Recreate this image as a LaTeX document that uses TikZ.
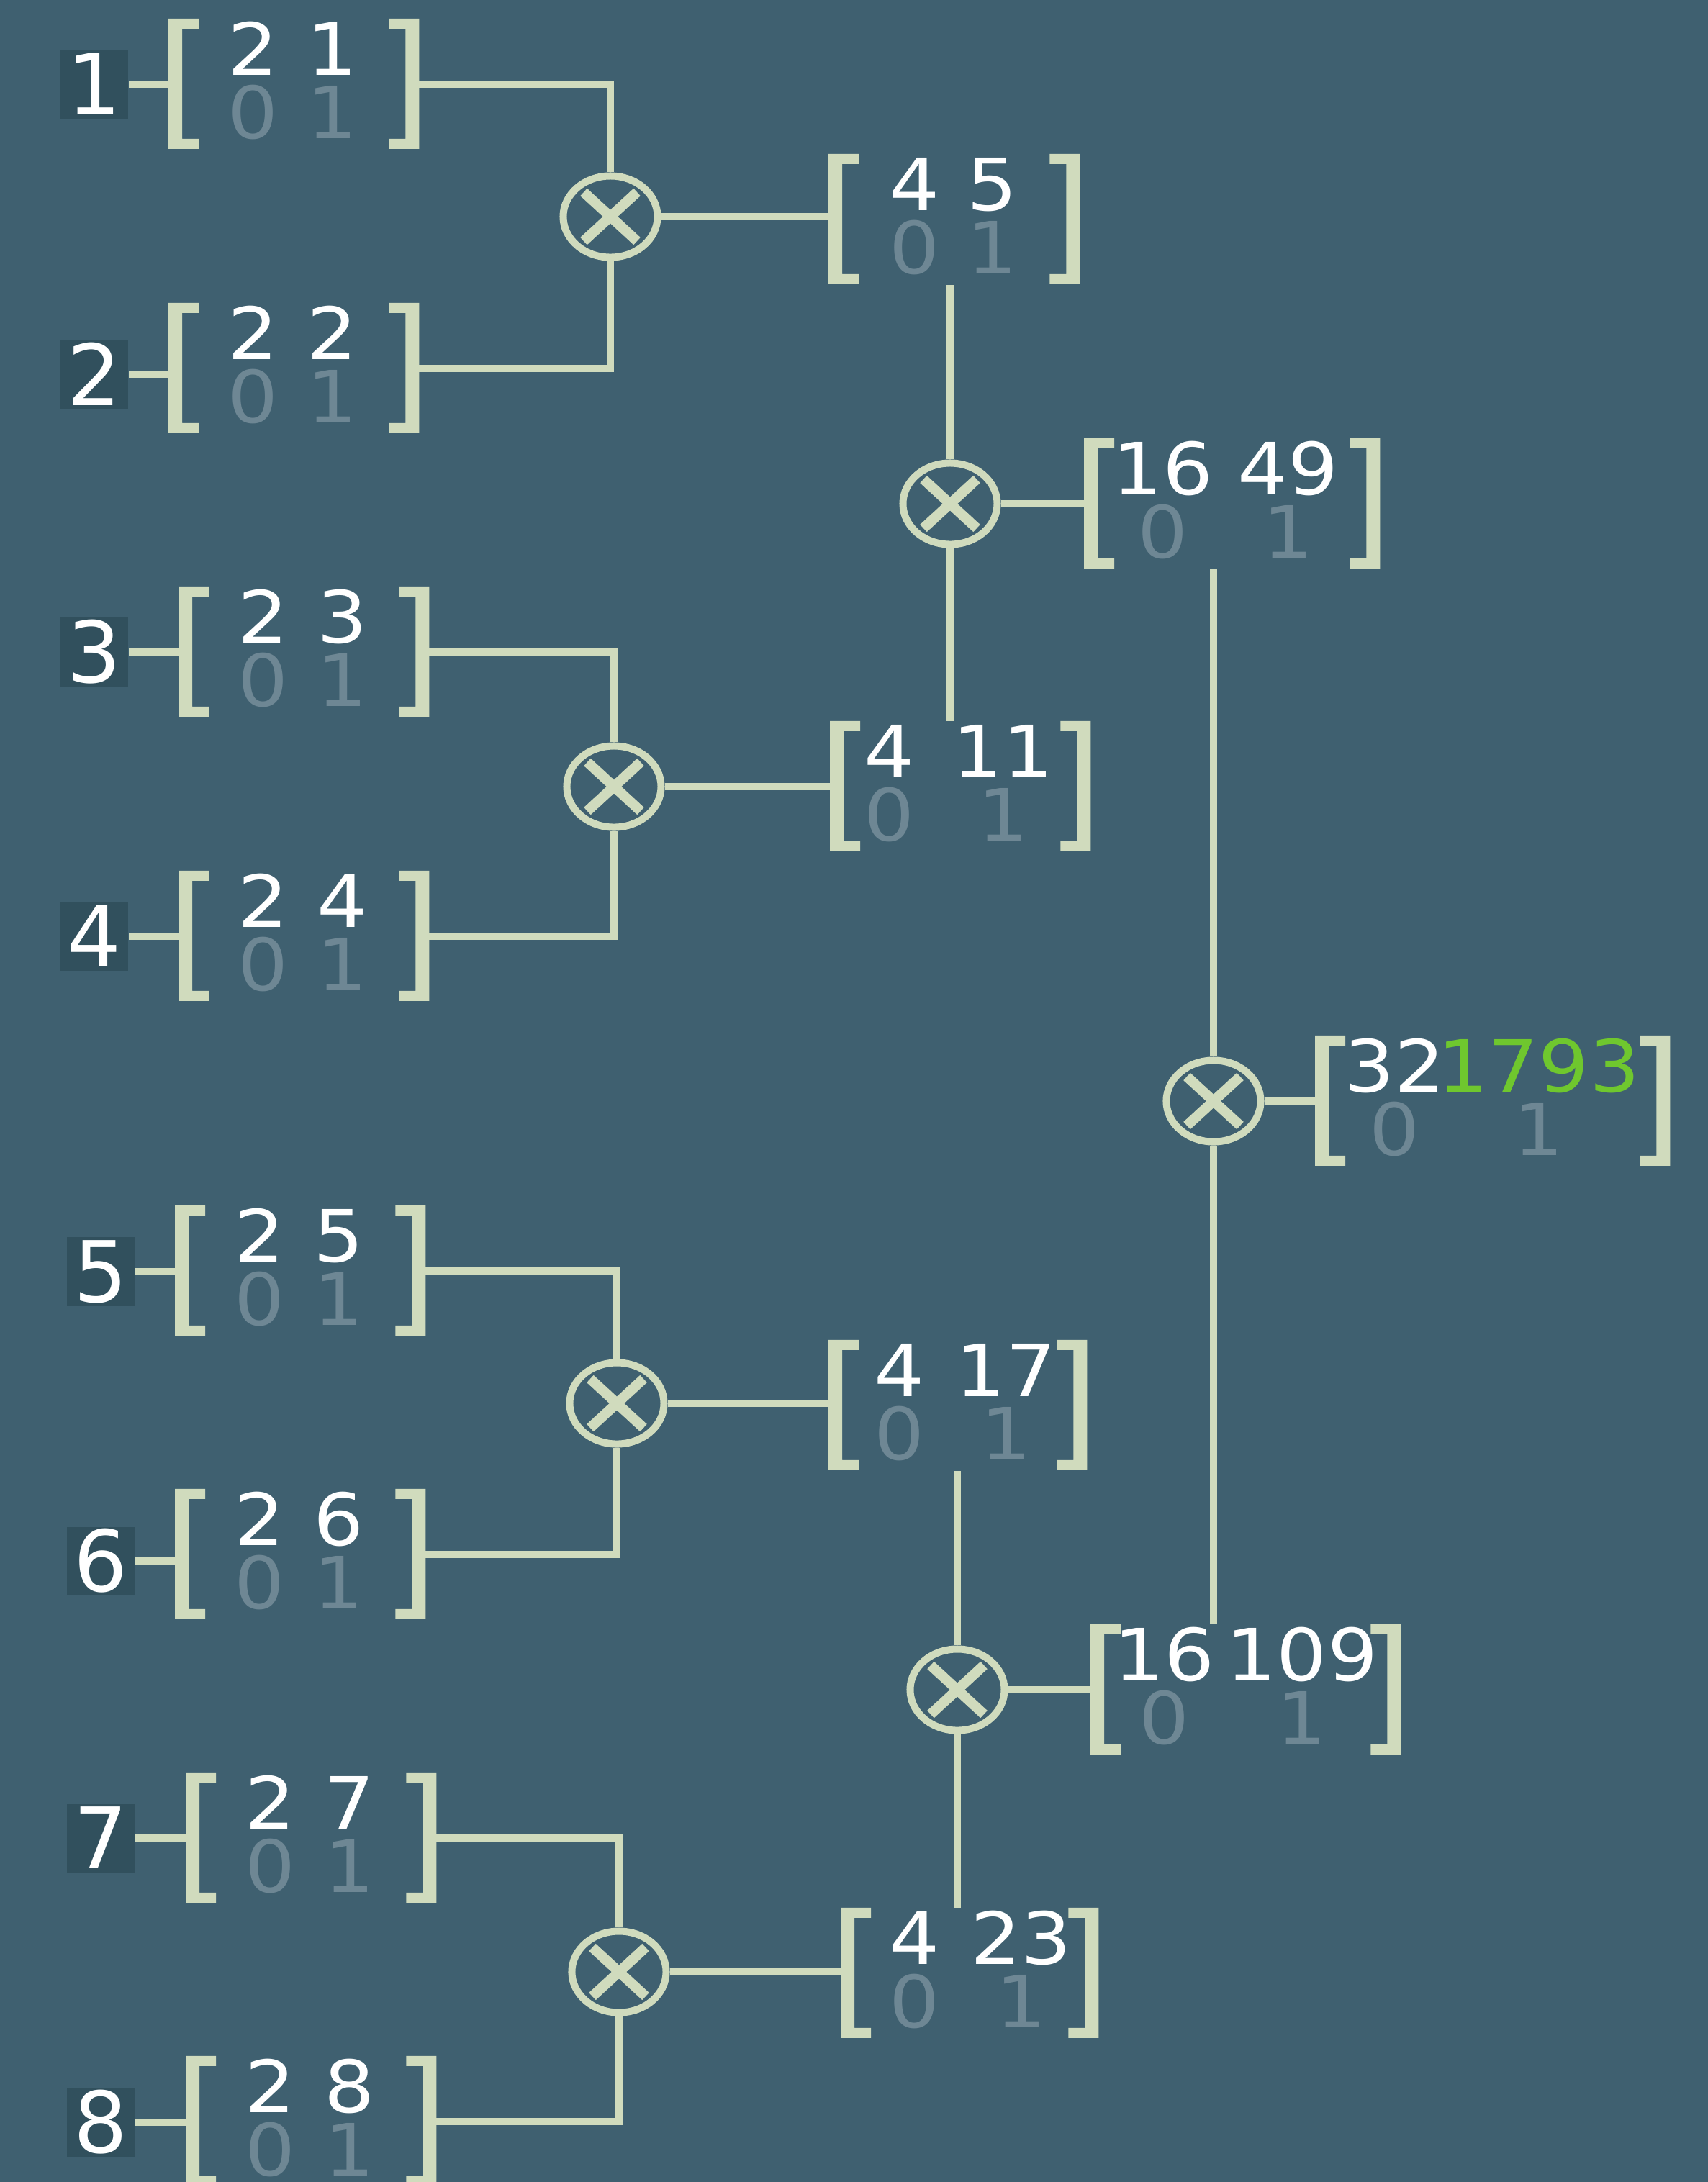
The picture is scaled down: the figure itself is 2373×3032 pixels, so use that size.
\documentclass[tikz,border=0pt]{standalone}
\usepackage{fontspec}
\usetikzlibrary{shapes.geometric}
\newfontfamily\kuanfont{DejaVu Sans}[FakeStretch=1.1]
\newfontfamily\biaofont{DejaVu Sans}
\definecolor{beijing}{HTML}{3F6070}
\definecolor{kuang}{HTML}{31505D}
\definecolor{xian}{HTML}{D0DBBD}
\definecolor{hui}{HTML}{6E8794}
\definecolor{lv}{HTML}{6FC72E}
\begin{document}
\begin{tikzpicture}[x=0.01cm, y=-0.01cm,
    lian/.style={draw=xian, line width=0.1cm},
    kuo/.style={fill=xian},
    jz/.style={anchor=west, minimum height=1.81cm, inner sep=0},
    shu/.style={anchor=base, inner sep=0, text=white, font=\kuanfont\fontsize{28.5}{30}\selectfont},
    ling/.style={text=hui},
    biao/.style={fill=kuang, text=white, minimum width=0.94cm, minimum height=0.95cm, inner sep=0, font=\biaofont\fontsize{33.5}{34}\selectfont},
    cheng/.style={ellipse, draw=xian, line width=0.1cm, minimum width=1.31cm, minimum height=1.13cm, inner sep=0,
        path picture={\draw[xian, line width=0.14cm]
            ([shift={(-0.37cm,-0.34cm)}]path picture bounding box.center) -- ([shift={(0.37cm,0.34cm)}]path picture bounding box.center)
            ([shift={(-0.37cm,0.34cm)}]path picture bounding box.center) -- ([shift={(0.37cm,-0.34cm)}]path picture bounding box.center);}}]

    % --- 背景 ---
    \useasboundingbox (0,0) rectangle (2373,3032);
    \fill[beijing] (0,0) rectangle (2373,3032);

    % --- 矩阵: 名称, 左边 x, 中心 y, 宽度, 两列的位置, 上行两数 ---
    \def\juzhen#1#2#3#4#5#6#7#8{%
        \node[jz, minimum width=#4*0.01cm] (#1) at (#2,#3) {};
        % 左右方括号
        \fill[kuo] (#1.north west) -- ++(42,0) -- ++(0,14) -- ++(-23,0) -- ++(0,153) -- ++(23,0) -- ++(0,14) -- ++(-42,0) -- cycle;
        \fill[kuo] (#1.north east) -- ++(-42,0) -- ++(0,14) -- ++(23,0) -- ++(0,153) -- ++(-23,0) -- ++(0,14) -- ++(42,0) -- cycle;
        \node[shu] at (#2+#5,#3-13) {#7};
        \node[shu] at (#2+#6,#3-13) {#8};
        \node[shu, ling] at (#2+#5,#3+75) {0};
        \node[shu, ling] at (#2+#6,#3+75) {1};
    }

    % --- 左边的编号 ---
    \node[biao] (b1) at (131,117) {1};
    \node[biao] (b2) at (131,520) {2};
    \node[biao] (b3) at (131,906) {3};
    \node[biao] (b4) at (131,1301) {4};
    \node[biao] (b5) at (140,1767) {5};
    \node[biao] (b6) at (140,2169) {6};
    \node[biao] (b7) at (140,2554) {7};
    \node[biao] (b8) at (140,2949) {8};

    % --- 输入矩阵 ---
    \juzhen{m1}{234}{117}{347}{118}{228}{2}{1}
    \juzhen{m2}{234}{512}{347}{118}{228}{2}{2}
    \juzhen{m3}{248}{906}{347}{118}{228}{2}{3}
    \juzhen{m4}{248}{1301}{347}{118}{228}{2}{4}
    \juzhen{m5}{243}{1766}{347}{118}{228}{2}{5}
    \juzhen{m6}{243}{2160}{347}{118}{228}{2}{6}
    \juzhen{m7}{258}{2554}{347}{118}{228}{2}{7}
    \juzhen{m8}{258}{2948}{347}{118}{228}{2}{8}

    % --- 乘法结点 ---
    \node[cheng] (c1) at (848,301) {};
    \node[cheng] (c2) at (1320,700) {};
    \node[cheng] (c3) at (853,1093) {};
    \node[cheng] (c4) at (1686,1530) {};
    \node[cheng] (c5) at (857,1950) {};
    \node[cheng] (c6) at (1330,2348) {};
    \node[cheng] (c7) at (860,2740) {};

    % --- 乘积矩阵 ---
    \juzhen{r1}{1151}{305}{348}{120}{228}{4}{5}
    \juzhen{r2}{1506}{700}{410}{110}{284}{16}{49}
    \juzhen{r3}{1153}{1093}{361}{83}{241}{4}{11}
    \juzhen{r4}{1827}{1530}{492}{111}{311}{32}{\color{lv}1793}
    \juzhen{r5}{1151}{1953}{358}{99}{247}{4}{17}
    \juzhen{r6}{1515}{2348}{430}{103}{294}{16}{109}
    \juzhen{r7}{1168}{2742}{357}{103}{251}{4}{23}

    % --- 编号连到矩阵 ---
    \draw[lian] (b1) -- (b1 -| m1.west);
    \draw[lian] (b2) -- (b2 -| m2.west);
    \draw[lian] (b3) -- (b3 -| m3.west);
    \draw[lian] (b4) -- (b4 -| m4.west);
    \draw[lian] (b5) -- (b5 -| m5.west);
    \draw[lian] (b6) -- (b6 -| m6.west);
    \draw[lian] (b7) -- (b7 -| m7.west);
    \draw[lian] (b8) -- (b8 -| m8.west);

    % --- 第一层: 两两相乘 ---
    \draw[lian] (m1) -| (c1);
    \draw[lian] (m2) -| (c1);
    \draw[lian] (c1) -- (c1 -| r1.west);
    \draw[lian] (m3) -| (c3);
    \draw[lian] (m4) -| (c3);
    \draw[lian] (c3) -- (c3 -| r3.west);
    \draw[lian] (m5) -| (c5);
    \draw[lian] (m6) -| (c5);
    \draw[lian] (c5) -- (c5 -| r5.west);
    \draw[lian] (m7) -| (c7);
    \draw[lian] (m8) -| (c7);
    \draw[lian] (c7) -- (c7 -| r7.west);

    % --- 第二层 ---
    \draw[lian] (r1.south -| c2) -- (c2);
    \draw[lian] (c2) -- (c2 |- r3.north);
    \draw[lian] (c2) -- (c2 -| r2.west);
    \draw[lian] (r5.south -| c6) -- (c6);
    \draw[lian] (c6) -- (c6 |- r7.north);
    \draw[lian] (c6) -- (c6 -| r6.west);

    % --- 第三层: 最后的乘积 ---
    \draw[lian] (r2.south -| c4) -- (c4);
    \draw[lian] (c4) -- (c4 |- r6.north);
    \draw[lian] (c4) -- (c4 -| r4.west);

\end{tikzpicture}
\end{document}
